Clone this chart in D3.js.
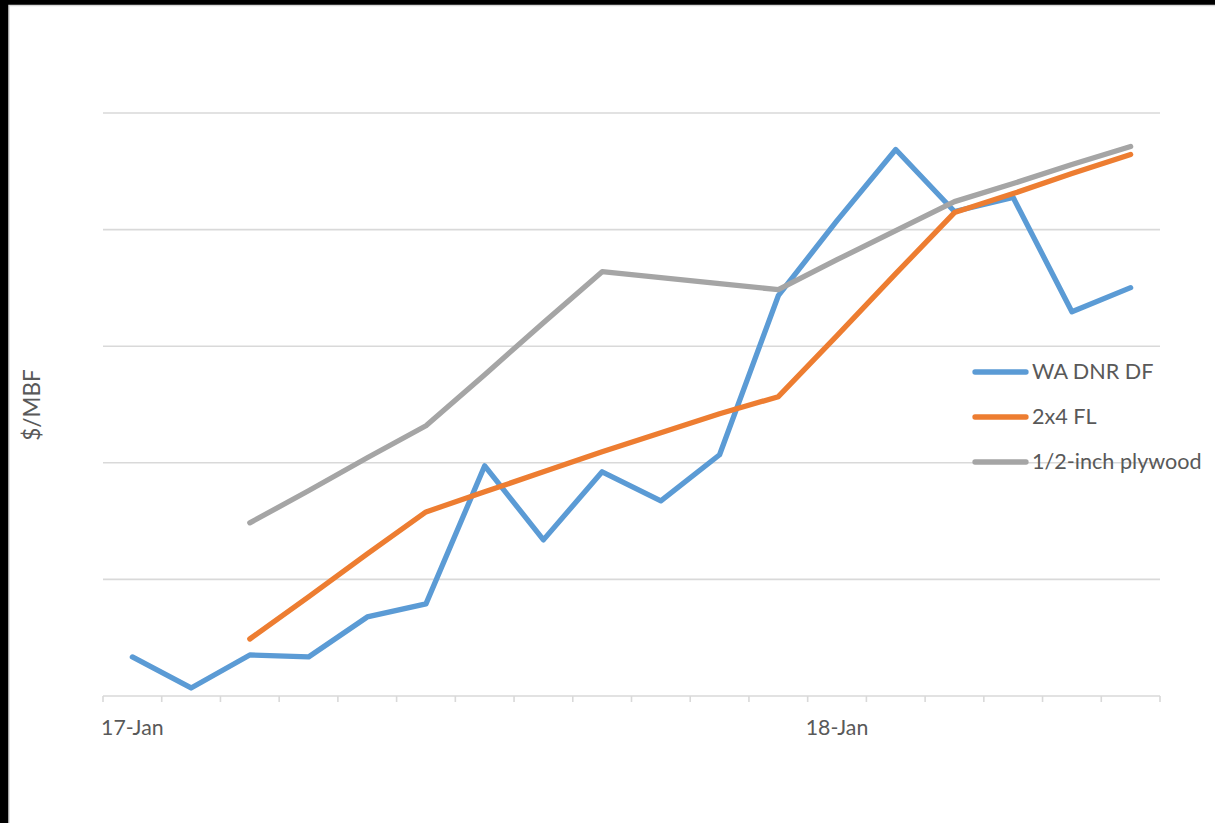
<!DOCTYPE html>
<html>
<head>
<meta charset="utf-8">
<script src="https://cdn.jsdelivr.net/npm/d3@7/dist/d3.min.js"></script>
<style>
  html, body { margin: 0; padding: 0; background: #000; }
  svg { display: block; }
  text { font-family: Lato, "Open Sans", sans-serif; fill: #595959; }
</style>
</head>
<body>
<svg id="chart" width="1215" height="823"></svg>
<script>
// Monthly categories Jan 2017 - Jun 2018
const categories = ["2017-01","2017-02","2017-03","2017-04","2017-05","2017-06",
                    "2017-07","2017-08","2017-09","2017-10","2017-11","2017-12",
                    "2018-01","2018-02","2018-03","2018-04","2018-05","2018-06"];
const categoryLabels = ["17-Jan","","","","","","","","","","","","18-Jan","","","","",""];

// Values in $/MBF-relative units (y axis labels hidden in the original)
const waDnrDf  = [33.5, 6.9, 35.2, 33.5, 67.8, 79.0, 197.4, 133.9, 192.3, 167.4, 206.9, 343.3,
                  407.7, 468.7, 415.5, 427.5, 329.6, 350.2];
const fl2x4    = [null, null, 48.9, 85.0, 121.9, 157.9, 175.1, 192.3, 209.4, 225.8, 242.1, 256.7,
                  309.0, 362.2, 414.6, 430.9, 448.1, 464.4];
const plywood  = [null, null, 148.5, 176.0, 204.3, 231.8, 275.5, 320.2, 363.9, 358.8, 353.6, 348.5,
                  374.2, 399.1, 424.0, 439.5, 455.8, 471.2];
const seriesNames = ["WA DNR DF", "2x4 FL", "1/2-inch plywood"];
const seriesColors = ["#5B9BD5", "#ED7D31", "#A5A5A5"];
const yTicks = [0, 100, 200, 300, 400, 500];
const yTitle = "$/MBF";

(function () {
const svg = d3.select("#chart");
const W = 1215, H = 823;

// frame
svg.append("rect").attr("x", 0).attr("y", 0).attr("width", W).attr("height", H).attr("fill", "#000");
svg.append("rect").attr("x", 9).attr("y", 5.5).attr("width", W).attr("height", H)
  .attr("fill", "#fff").attr("stroke", "#D9D9D9").attr("stroke-width", 1.5);

const pLeft = 103, pRight = 1160, pTop = 113, pBottom = 696;

const x = d3.scaleBand().domain(categories).range([pLeft, pRight]).paddingInner(0).paddingOuter(0);
const y = d3.scaleLinear().domain([0, 500]).range([pBottom, pTop]);

// gridlines
svg.append("g").selectAll("line").data(yTicks.filter(t => t > 0)).join("line")
  .attr("x1", pLeft).attr("x2", pRight)
  .attr("y1", d => y(d)).attr("y2", d => y(d))
  .attr("stroke", "#D9D9D9").attr("stroke-width", 1.6);

// x axis
const ax = svg.append("g");
ax.append("line").attr("x1", pLeft).attr("x2", pRight).attr("y1", pBottom).attr("y2", pBottom)
  .attr("stroke", "#D9D9D9").attr("stroke-width", 1.6);
const tickPos = categories.map(c => x(c)).concat([pRight]);
ax.selectAll("line.tick").data(tickPos).join("line").attr("class", "tick")
  .attr("x1", d => d).attr("x2", d => d).attr("y1", pBottom).attr("y2", pBottom + 6)
  .attr("stroke", "#D9D9D9").attr("stroke-width", 1.6);
ax.selectAll("text").data(categories.map((c, i) => ({c, l: categoryLabels[i]})).filter(d => d.l))
  .join("text")
  .attr("x", d => x(d.c) + x.bandwidth() / 2).attr("y", 735)
  .attr("text-anchor", "middle").attr("font-size", 21.3).text(d => d.l);

// y title
svg.append("text").attr("transform", "translate(40,405) rotate(-90)")
  .attr("text-anchor", "middle").attr("font-size", 22.5).text(yTitle);

// lines
const allSeries = [waDnrDf, fl2x4, plywood];
const line = d3.line()
  .defined(d => d.v != null)
  .x(d => x(d.c) + x.bandwidth() / 2)
  .y(d => y(d.v));
allSeries.forEach((vals, k) => {
  const data = categories.map((c, i) => ({c, v: vals[i]}));
  svg.append("path").datum(data)
    .attr("d", line).attr("fill", "none")
    .attr("stroke", seriesColors[k]).attr("stroke-width", 5.3)
    .attr("stroke-linejoin", "round").attr("stroke-linecap", "round");
});

// legend
const lg = svg.append("g");
const legendY = [372, 417, 462];
seriesNames.forEach((n, k) => {
  lg.append("line").attr("x1", 975).attr("x2", 1026)
    .attr("y1", legendY[k]).attr("y2", legendY[k])
    .attr("stroke", seriesColors[k]).attr("stroke-width", 5.3).attr("stroke-linecap", "round");
  lg.append("text").attr("x", 1032).attr("y", legendY[k]).attr("dy", "0.34em")
    .attr("font-size", 21.6).text(n);
});
})();
</script>
</body>
</html>
